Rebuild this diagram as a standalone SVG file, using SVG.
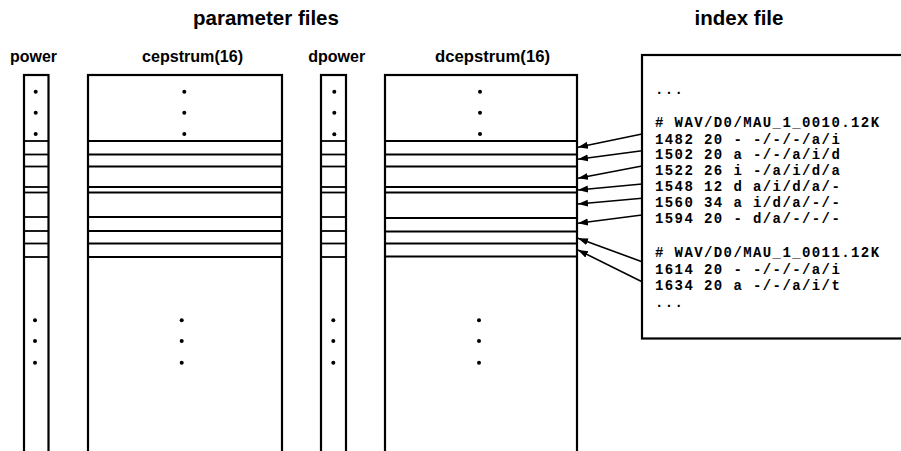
<svg xmlns="http://www.w3.org/2000/svg" width="901" height="451" viewBox="0 0 901 451">
<style>
.title{font-family:"Liberation Sans",Arial,sans-serif;font-weight:bold;font-size:20.5px;fill:#000;text-anchor:middle}
.lbl{font-family:"Liberation Sans",Arial,sans-serif;font-weight:bold;font-size:17px;fill:#000;text-anchor:middle}
.col{fill:#fff;stroke:#000;stroke-width:2.2}
.seg{stroke:#000;stroke-width:1.8}
.dot{fill:#000}
.box{fill:#fff;stroke:#000;stroke-width:2.2}
.code{font-family:"Liberation Mono","Courier New",monospace;font-weight:bold;font-size:14px;letter-spacing:1.4px;fill:#000}
.arr{stroke:#000;stroke-width:1.6;fill:none;marker-end:url(#ah)}
</style>
<defs>
<marker id="ah" markerUnits="userSpaceOnUse" markerWidth="11" markerHeight="8" refX="10" refY="3.5" orient="auto">
<path d="M0,0 L10,3.5 L0,7 z" fill="#000"/>
</marker>
</defs>
<rect width="901" height="451" fill="#fff"/>

<g id="titles">
<text class="title" x="266" y="25">parameter files</text>
<text class="title" x="739" y="25">index file</text>
</g>

<g id="power">
<text class="lbl" x="33.5" y="62" textLength="47" lengthAdjust="spacingAndGlyphs">power</text>
<rect class="col" x="24" y="75" width="24.5" height="380"/>
<g class="seg">
<line x1="24" y1="141" x2="48.5" y2="141"/><line x1="24" y1="154.5" x2="48.5" y2="154.5"/><line x1="24" y1="166.5" x2="48.5" y2="166.5"/><line x1="24" y1="187" x2="48.5" y2="187"/><line x1="24" y1="192.5" x2="48.5" y2="192.5"/><line x1="24" y1="217" x2="48.5" y2="217"/><line x1="24" y1="231" x2="48.5" y2="231"/><line x1="24" y1="243.5" x2="48.5" y2="243.5"/><line x1="24" y1="257" x2="48.5" y2="257"/>
</g>
<g class="dot">
<circle cx="35.7" cy="91.7" r="2"/><circle cx="35.7" cy="112.7" r="2"/><circle cx="35.7" cy="134" r="2"/>
<circle cx="35" cy="320.3" r="2"/><circle cx="35" cy="341" r="2"/><circle cx="35" cy="362.7" r="2"/>
</g>
</g>

<g id="cepstrum">
<text class="lbl" x="192.5" y="62" textLength="101" lengthAdjust="spacingAndGlyphs">cepstrum(16)</text>
<rect class="col" x="88" y="75" width="194" height="380"/>
<g class="seg">
<line x1="88" y1="141" x2="282" y2="141"/><line x1="88" y1="154.5" x2="282" y2="154.5"/><line x1="88" y1="166.5" x2="282" y2="166.5"/><line x1="88" y1="187" x2="282" y2="187"/><line x1="88" y1="192.5" x2="282" y2="192.5"/><line x1="88" y1="217" x2="282" y2="217"/><line x1="88" y1="231" x2="282" y2="231"/><line x1="88" y1="243.5" x2="282" y2="243.5"/><line x1="88" y1="257" x2="282" y2="257"/>
</g>
<g class="dot">
<circle cx="184.3" cy="91.7" r="2"/><circle cx="184.3" cy="112.7" r="2"/><circle cx="184.3" cy="134" r="2"/>
<circle cx="181.7" cy="320.3" r="2"/><circle cx="181.7" cy="341" r="2"/><circle cx="181.7" cy="362.7" r="2"/>
</g>
</g>

<g id="dpower">
<text class="lbl" x="336.7" y="62" textLength="57" lengthAdjust="spacingAndGlyphs">dpower</text>
<rect class="col" x="321" y="75" width="25" height="380"/>
<g class="seg">
<line x1="321" y1="141" x2="346" y2="141"/><line x1="321" y1="154.5" x2="346" y2="154.5"/><line x1="321" y1="166.5" x2="346" y2="166.5"/><line x1="321" y1="187" x2="346" y2="187"/><line x1="321" y1="192.5" x2="346" y2="192.5"/><line x1="321" y1="217" x2="346" y2="217"/><line x1="321" y1="231" x2="346" y2="231"/><line x1="321" y1="243.5" x2="346" y2="243.5"/><line x1="321" y1="257" x2="346" y2="257"/>
</g>
<g class="dot">
<circle cx="334.3" cy="91.7" r="2"/><circle cx="334.3" cy="112.7" r="2"/><circle cx="334.3" cy="134.3" r="2"/>
<circle cx="333.3" cy="320.3" r="2"/><circle cx="333.3" cy="341" r="2"/><circle cx="333.3" cy="362.7" r="2"/>
</g>
</g>

<g id="dcepstrum">
<text class="lbl" x="492.5" y="62" textLength="115" lengthAdjust="spacingAndGlyphs">dcepstrum(16)</text>
<rect class="col" x="385" y="75" width="192" height="380"/>
<g class="seg">
<line x1="385" y1="141" x2="577" y2="141"/><line x1="385" y1="154.5" x2="577" y2="154.5"/><line x1="385" y1="166.5" x2="577" y2="166.5"/><line x1="385" y1="187" x2="577" y2="187"/><line x1="385" y1="192.5" x2="577" y2="192.5"/><line x1="385" y1="218" x2="577" y2="218"/><line x1="385" y1="231.5" x2="577" y2="231.5"/><line x1="385" y1="243.5" x2="577" y2="243.5"/><line x1="385" y1="256.5" x2="577" y2="256.5"/>
</g>
<g class="dot">
<circle cx="480" cy="91.7" r="2"/><circle cx="480" cy="112.7" r="2"/><circle cx="480" cy="134" r="2"/>
<circle cx="479" cy="320.3" r="2"/><circle cx="479" cy="341" r="2"/><circle cx="479" cy="362.7" r="2"/>
</g>
</g>

<g id="index-file">
<rect class="box" x="642" y="55" width="280" height="283.5"/>
<text class="code" x="655" y="93.5">...</text>
<text class="code" x="655" y="127.3"># WAV/D0/MAU_1_0010.12K</text>
<text class="code" x="655" y="143.8">1482 20 - -/-/-/a/i</text>
<text class="code" x="655" y="159.3">1502 20 a -/-/a/i/d</text>
<text class="code" x="655" y="175">1522 26 i -/a/i/d/a</text>
<text class="code" x="655" y="191">1548 12 d a/i/d/a/-</text>
<text class="code" x="655" y="207.3">1560 34 a i/d/a/-/-</text>
<text class="code" x="655" y="223">1594 20 - d/a/-/-/-</text>
<text class="code" x="655" y="257"># WAV/D0/MAU_1_0011.12K</text>
<text class="code" x="655" y="273.8">1614 20 - -/-/-/a/i</text>
<text class="code" x="655" y="290.2">1634 20 a -/-/a/i/t</text>
<text class="code" x="655" y="306.5">...</text>
</g>

<g id="connectors">
<line class="arr" x1="642" y1="134" x2="578" y2="147.3"/>
<line class="arr" x1="642" y1="150.7" x2="578" y2="159.3"/>
<line class="arr" x1="642" y1="166" x2="578" y2="178.3"/>
<line class="arr" x1="642" y1="184" x2="578" y2="190"/>
<line class="arr" x1="642" y1="198.3" x2="578" y2="204"/>
<line class="arr" x1="642" y1="215" x2="578" y2="223.3"/>
<line class="arr" x1="642" y1="261.7" x2="578" y2="238.3"/>
<line class="arr" x1="642" y1="281.7" x2="578" y2="250"/>
</g>
</svg>
